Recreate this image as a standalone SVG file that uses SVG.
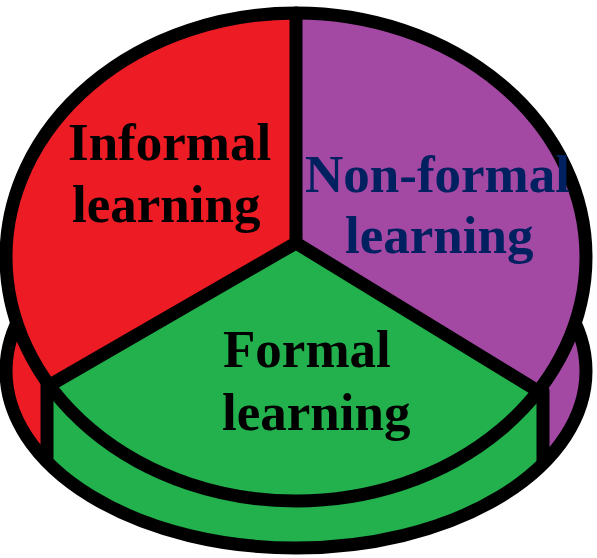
<svg xmlns="http://www.w3.org/2000/svg" width="597" height="558" viewBox="0 0 597 558">
  <style>
    .ol { fill: none; stroke: #000; stroke-width: 13; stroke-linejoin: round; stroke-linecap: round; }
    .red { fill: #ED1C24; }
    .green { fill: #22B14C; }
    .purple { fill: #A349A4; }
    .lbl { font-family: "Liberation Serif", "Times New Roman", serif; font-weight: bold; font-size: 53px; }
  </style>
  <defs>
    <clipPath id="bottomClip">
      <ellipse cx="296" cy="371" rx="290" ry="177"/>
    </clipPath>
  </defs>
  <rect width="597" height="558" fill="#fff"/>
  <g id="side">
    <g clip-path="url(#bottomClip)">
      <rect class="red" x="0" y="150" width="47" height="408"/>
      <rect class="green" x="47" y="150" width="496" height="408"/>
      <rect class="purple" x="543" y="150" width="54" height="408"/>
    </g>
    <ellipse class="ol" cx="296" cy="371" rx="290" ry="177"/>
    <line class="ol" x1="47" y1="385" x2="47" y2="458"/>
    <line class="ol" x1="543" y1="391" x2="543" y2="461"/>
  </g>
  <g id="sectors">
    <ellipse class="green" cx="296" cy="257" rx="290" ry="244"/>
    <path class="red" d="M296,243 L296,13 A290,244 0 0,0 50,385 Z"/>
    <path class="purple" d="M296,243 L296,13 A290,244 0 0,1 538,391 Z"/>
  </g>
  <g id="connectors">
    <ellipse class="ol" cx="296" cy="257" rx="290" ry="244"/>
    <path class="ol" d="M296,13 L296,243 M50,385 L296,243 L538,391"/>
  </g>
  <g id="formal">
    <text class="lbl" x="223" y="367" fill="#000">Formal</text>
    <text class="lbl" x="222" y="430" fill="#000">learning</text>
  </g>
  <g id="informal">
    <text class="lbl" x="68" y="160" fill="#000">Informal</text>
    <text class="lbl" x="72" y="222" fill="#000">learning</text>
  </g>
  <g id="nonformal">
    <text class="lbl" x="305" y="192" fill="#002060">Non-formal</text>
    <text class="lbl" x="345" y="253" fill="#002060">learning</text>
  </g>
</svg>
